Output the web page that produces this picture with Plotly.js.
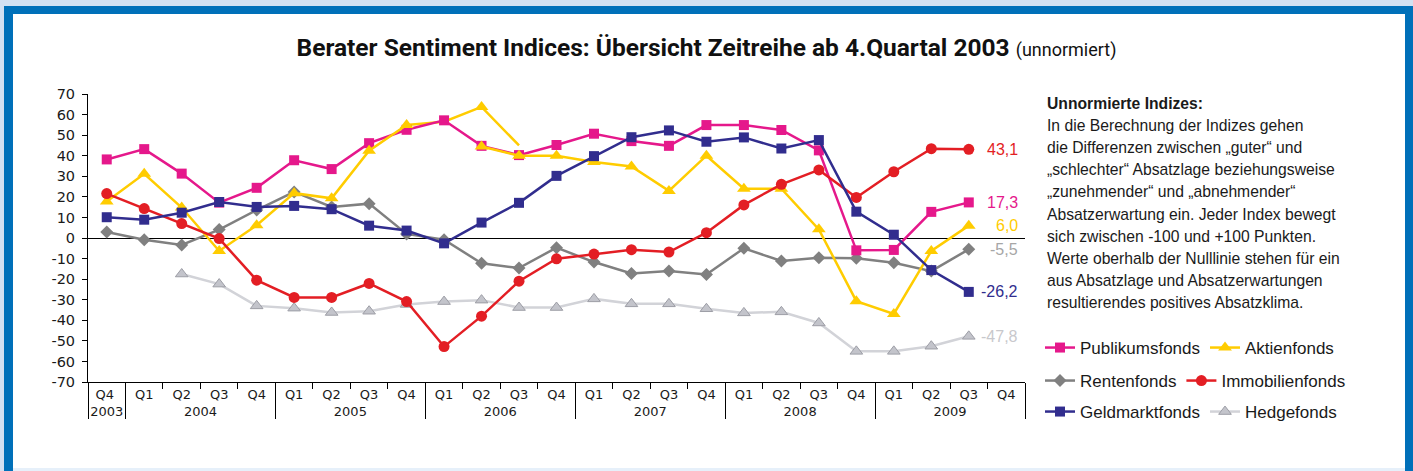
<!DOCTYPE html>
<html>
<head>
<meta charset="utf-8">
<script src="https://cdn.plot.ly/plotly-3.0.1.min.js"></script>
<style>
  html, body { margin: 0; padding: 0; }
  body { width: 1413px; height: 471px; position: relative; background: #d3e1f2; overflow: hidden; }
  #dark { position: absolute; left: 4px; top: 6px; width: 1409px; height: 465px; background: #0070b9; }
  #white { position: absolute; left: 13px; top: 14px; width: 1392px; height: 454px; background: #ffffff; }
  #strip { position: absolute; left: 13px; top: 468px; width: 1392px; height: 3px; background: #e6f0fa; }
  #chart { position: absolute; left: 0; top: 0; width: 1413px; height: 471px; }
</style>
</head>
<body>
<div id="dark"></div>
<div id="white"></div>
<div id="strip"></div>
<div id="chart"></div>
<script>
// ---- Data ----
const years = ['2003','2004','2004','2004','2004','2005','2005','2005','2005','2006','2006','2006','2006',
               '2007','2007','2007','2007','2008','2008','2008','2008','2009','2009','2009','2009'];
// the first 'Q4 ' carries a trailing space so that Plotly orders the inner level Q1..Q4 in later years
const quarters = ['Q4 ','Q1','Q2','Q3','Q4','Q1','Q2','Q3','Q4','Q1','Q2','Q3','Q4',
                  'Q1','Q2','Q3','Q4','Q1','Q2','Q3','Q4','Q1','Q2','Q3','Q4'];

const publikumsfonds = [38.2, 43.2, 31.3, 17.2, 24.4, 37.8, 33.5, 46.1, 52.6, 57.2, 44.8, 40.3, 45.2,
                        50.7, 47.1, 44.8, 54.9, 54.9, 52.5, 42.6, -6.0, -5.8, 12.7, 17.3, null];
// Q1 2006 of the Aktienfonds line is hidden behind the Publikumsfonds marker; it is carried by the segment below
const aktienfonds    = [17.7, 31.2, 14.8, -6.3, 6.2, 21.8, 19.3, 42.4, 54.9, null, 44.5, 40.0, 40.0,
                        37.0, 34.8, 22.9, 40.0, 24.0, 24.0, 4.2, -30.7, -36.9, -6.3, 6.0, null];
// separate yellow segment (Q4 2005 - Q3 2006) visible in the original
const aktienSpikeYears = ['2005','2006','2006','2006'];
const aktienSpikeQuarters = ['Q4','Q1','Q2','Q3'];
const aktienSpike = [54.9, 56.5, 63.7, 45.0];
const rentenfonds    = [2.9, -0.8, -3.4, 4.1, 13.6, 22.4, 15.1, 16.7, 2.0, -0.8, -12.3, -14.6, -4.7,
                        -11.7, -17.2, -16.1, -17.7, -5.0, -11.2, -9.6, -9.9, -12.0, -16.1, -5.5, null];
const immobilienfonds= [21.6, 14.3, 7.0, -0.3, -20.5, -28.9, -28.9, -22.1, -30.9, -52.8, -38.0, -21.0, -10.1,
                        -7.8, -5.7, -6.8, 2.6, 16.1, 26.1, 33.1, 19.7, 32.2, 43.4, 43.1, null];
const geldmarktfonds = [10.1, 8.9, 12.3, 17.5, 15.1, 15.6, 14.0, 6.0, 3.6, -2.6, 7.5, 17.1, 30.2,
                        39.8, 49.0, 52.3, 46.8, 48.9, 43.5, 47.6, 12.8, 1.6, -15.6, -26.2, null];
const hedgefonds     = [null, null, -17.5, -22.4, -33.0, -34.1, -36.2, -35.6, -32.3, -30.9, -30.2, -33.8, -33.8,
                        -29.6, -32.0, -32.0, -34.4, -36.4, -35.9, -41.3, -55.1, -55.1, -52.6, -47.8, null];

const yTickVals = [70, 60, 50, 40, 30, 20, 10, 0, -10, -20, -30, -40, -50, -60, -70];
const yTickText = ['70','60','50','40','30','20','10','0','-10','-20','-30','-40','-50','-60','-70'];

const infoLines = [
  '<b>Unnormierte Indizes:</b>',
  'In die Berechnung der Indizes gehen',
  'die Differenzen zwischen „guter“ und',
  '„schlechter“ Absatzlage beziehungsweise',
  '„zunehmender“ und „abnehmender“',
  'Absatzerwartung ein. Jeder Index bewegt',
  'sich zwischen -100 und +100 Punkten.',
  'Werte oberhalb der Nulllinie stehen für ein',
  'aus Absatzlage und Absatzerwartungen',
  'resultierendes positives Absatzklima.'
];

// ---- Styles ----
const FONT = 'Liberation Sans, Arial, sans-serif';
const AXFONT = 'DejaVu Sans, sans-serif';
const NARROW = 'Roboto, Arial, sans-serif';
const C = {
  pub: '#e5188b', akt: '#ffcc00', ren: '#808080', imm: '#e31e24', geld: '#312d8e', hedge: '#d2d3d8'
};
const x = [years, quarters];

function tr(name, y, color, symbol, size, legend, rank, extra) {
  return Object.assign({
    type: 'scatter', mode: 'lines+markers', name: name, x: x, y: y,
    line: { color: color, width: 2.5 },
    marker: { color: color, symbol: symbol, size: size },
    legend: legend, legendrank: rank, connectgaps: false, hoverinfo: 'y+name'
  }, extra || {});
}

const traces = [
  tr('Hedgefonds', hedgefonds, C.hedge, 'triangle-up', 11, 'legend3', 2,
     { marker: { color: '#c3c4cb', symbol: 'triangle-up', size: 11, line: { color: '#9d9ea6', width: 1 } } }),
  tr('Rentenfonds', rentenfonds, C.ren, 'diamond', 10, 'legend2', 1),
  { type: 'scatter', mode: 'lines', x: [aktienSpikeYears, aktienSpikeQuarters], y: aktienSpike,
    line: { color: C.akt, width: 2.5 }, showlegend: false, hoverinfo: 'skip' },
  tr('Publikumsfonds', publikumsfonds, C.pub, 'square', 10, 'legend', 1),
  { type: 'scatter', mode: 'markers', x: [[aktienSpikeYears[2]], [aktienSpikeQuarters[2]]], y: [aktienSpike[2]],
    marker: { color: C.akt, symbol: 'triangle-up', size: 12 }, showlegend: false, hoverinfo: 'skip' },
  tr('Aktienfonds', aktienfonds, C.akt, 'triangle-up', 12, 'legend', 2),
  tr('Immobilienfonds', immobilienfonds, C.imm, 'circle', 11, 'legend2', 2),
  tr('Geldmarktfonds', geldmarktfonds, C.geld, 'square', 10, 'legend3', 1)
];

// end-value labels (last reported value of each series)
const endSeries = [
  { y: immobilienfonds, color: C.imm },
  { y: publikumsfonds, color: C.pub },
  { y: aktienfonds, color: C.akt },
  { y: rentenfonds, color: '#a6a6a6' },
  { y: geldmarktfonds, color: C.geld },
  { y: hedgefonds, color: '#c8c8cc' }
];
function lastVal(arr) { for (let i = arr.length - 1; i >= 0; i--) if (arr[i] !== null) return arr[i]; return null; }

const PL = 88, PW = 937, PT = 94, PH = 288;
const annotations = [];
endSeries.forEach(s => {
  const v = lastVal(s.y);
  annotations.push({
    xref: 'paper', yref: 'y', x: 1, y: v, xanchor: 'right', yanchor: 'middle', xshift: -5,
    text: v.toFixed(1).replace('.', ','), showarrow: false,
    font: { family: FONT, size: 16, color: s.color }
  });
});

// info text block on the right
infoLines.forEach((t, i) => {
  const ypx = 103 + i * 22.2;
  annotations.push({
    xref: 'paper', yref: 'paper', x: (1045 - PL) / PW, y: (PT + PH - ypx) / PH,
    xanchor: 'left', yanchor: 'middle', text: t, showarrow: false, align: 'left',
    font: { family: FONT, size: 15.7, color: '#1a1a1a' }
  });
});

function legendAt(ypx) {
  return {
    orientation: 'h', xref: 'paper', yref: 'paper',
    x: (1040 - PL) / PW, y: (PT + PH - ypx) / PH, xanchor: 'left', yanchor: 'middle',
    bgcolor: 'rgba(0,0,0,0)', borderwidth: 0,
    font: { family: FONT, size: 17, color: '#1a1a1a' },
    itemwidth: 30, traceorder: 'normal'
  };
}

const layout = {
  width: 1413, height: 471,
  margin: { l: PL, r: 1413 - PL - PW, t: PT, b: 471 - PT - PH, autoexpand: false },
  paper_bgcolor: 'rgba(0,0,0,0)', plot_bgcolor: 'rgba(0,0,0,0)',
  font: { family: FONT, color: '#1a1a1a' },
  title: {
    text: '<b>Berater Sentiment Indices: Übersicht Zeitreihe ab 4.Quartal 2003</b> <span style="font-size:18px">(unnormiert)</span>',
    font: { family: NARROW, size: 24.5, color: '#111' },
    x: 0.5, xref: 'container', xanchor: 'center', y: 1 - 47 / 471, yref: 'container', yanchor: 'middle'
  },
  xaxis: {
    type: 'multicategory', range: [-0.5, years.length - 0.5], autorange: false,
    showline: true, linecolor: '#000', linewidth: 1,
    ticks: 'outside', ticklen: 6, tickcolor: '#000', tickwidth: 1,
    showdividers: true, dividercolor: '#000', dividerwidth: 1,
    showgrid: false, zeroline: false,
    tickfont: { family: AXFONT, size: 13, color: '#1a1a1a' }
  },
  yaxis: {
    range: [-70, 70], tickvals: yTickVals, ticktext: yTickText,
    ticks: 'outside', ticklen: 5, tickcolor: '#000', showline: true, linecolor: '#000', linewidth: 1,
    showgrid: false, zeroline: true, zerolinecolor: '#000', zerolinewidth: 1,
    ticklabelstandoff: 4,
    tickfont: { family: AXFONT, size: 14.5, color: '#1a1a1a' }
  },
  showlegend: true,
  legend: legendAt(348),
  legend2: legendAt(381),
  legend3: legendAt(412),
  annotations: annotations
};

Plotly.newPlot('chart', traces, layout, { displayModeBar: false, staticPlot: true });
</script>
</body>
</html>
